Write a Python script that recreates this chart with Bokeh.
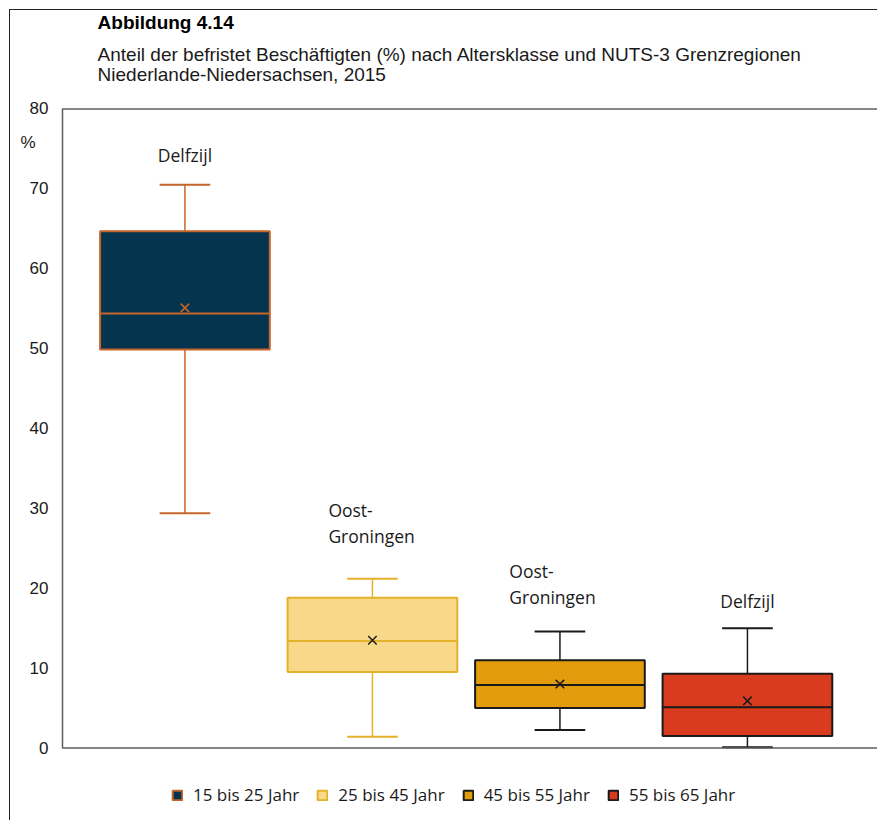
from bokeh.plotting import figure
from bokeh.models import Range1d, Label, Legend, LegendItem, FixedTicker, ColumnDataSource, Span
from bokeh.core.properties import value
from bokeh.embed import file_html
from bokeh.resources import INLINE

# ---- data ----
categories = ["15 bis 25 Jahr", "25 bis 45 Jahr", "45 bis 55 Jahr", "55 bis 65 Jahr"]
regions = ["Delfzijl", "Oost-\nGroningen", "Oost-\nGroningen", "Delfzijl"]
whisker_low = [29.4, 1.4, 2.25, 0.1]
q1 = [49.9, 9.5, 5.0, 1.5]
median = [54.4, 13.4, 7.9, 5.1]
q3 = [64.7, 18.8, 11.0, 9.3]
whisker_high = [70.5, 21.2, 14.6, 15.0]
mean = [55.1, 13.5, 8.0, 5.9]
y_ticks = [0, 10, 20, 30, 40, 50, 60, 70, 80]
y_min, y_max = 0, 80
unit_label = "%"
title_main = "Abbildung 4.14"
title_sub = ["Anteil der befristet Beschäftigten (%) nach Altersklasse und NUTS-3 Grenzregionen",
             "Niederlande-Niedersachsen, 2015"]

# ---- styling / layout ----
fills = ["#05344f", "#f8d98a", "#e39c0c", "#d93b1e"]
lines = ["#c5652b", "#e3b12a", "#1a1a1a", "#1a1a1a"]
mean_colors = ["#c5652b", "#1a1a1a", "#1a1a1a", "#1a1a1a"]
label_align = ["center", "left", "left", "center"]
label_dx = [0.0, -0.235, -0.27, 0.0]
label_y = [74.3, 28.2, 20.5, 18.4]
unit_label_y = 75.8
title_x = 0.534
title_y = [90.89, 86.76, 84.26]

TITLE_FONT = "Liberation Sans"
LABEL_FONT = "Open Sans"
FRAME_COLOR = "#5e5e5e"

# the plotting frame spans the whole canvas height; the value area is 0..80
p = figure(width=868, height=811, output_backend="svg", toolbar_location=None,
           x_range=Range1d(0.347, 4.699), y_range=Range1d(-8.2, 92.33),
           min_border_left=52, min_border_right=0, min_border_top=0, min_border_bottom=8,
           title=None)
p.styles = {"margin-left": "9px", "margin-top": "9px",
            "border-top": "1.5px solid #222", "border-left": "1.5px solid #222"}

p.grid.visible = False
p.xaxis.visible = False
p.outline_line_color = None

ya = p.yaxis[0]
ya.ticker = FixedTicker(ticks=y_ticks + [unit_label_y])
ya.major_label_overrides = {unit_label_y: unit_label + "\u00a0\u00a0\u2009"}
ya.bounds = (y_min, y_max)
ya.axis_line_color = FRAME_COLOR
ya.axis_line_width = 1.5
ya.major_tick_line_color = None
ya.minor_tick_line_color = None
ya.major_label_standoff = 8
ya.major_label_text_font = "Liberation Sans"
ya.major_label_text_font_size = "17px"
ya.major_label_text_color = "#1a1a1a"

# top and bottom frame lines
p.add_layout(Span(location=y_max, dimension="width", line_color=FRAME_COLOR, line_width=1.5))
p.add_layout(Span(location=y_min, dimension="width", line_color=FRAME_COLOR, line_width=1.5))

xs = list(range(1, len(categories) + 1))
box_w = 0.905
cap_w = 0.27

legend_items = []
for i, x in enumerate(xs):
    c_fill, c_line = fills[i], lines[i]
    # whiskers
    p.segment(x0=[x, x], y0=[whisker_low[i], q3[i]], x1=[x, x], y1=[q1[i], whisker_high[i]],
              line_color=c_line, line_width=1.5)
    p.segment(x0=[x - cap_w / 2] * 2, y0=[whisker_low[i], whisker_high[i]],
              x1=[x + cap_w / 2] * 2, y1=[whisker_low[i], whisker_high[i]],
              line_color=c_line, line_width=2)
    # box
    r = p.vbar(x=[x], width=box_w, bottom=[q1[i]], top=[q3[i]],
               fill_color=c_fill, line_color=c_line, line_width=2)
    # median
    p.segment(x0=[x - box_w / 2], y0=[median[i]], x1=[x + box_w / 2], y1=[median[i]],
              line_color=c_line, line_width=2)
    # mean
    p.scatter(x=[x], y=[mean[i]], marker="x", size=12, line_color=mean_colors[i], line_width=1.5)
    legend_items.append(LegendItem(label=categories[i], renderers=[r]))

# region labels
src = ColumnDataSource(dict(x=[xs[i] + label_dx[i] for i in range(4)], y=label_y,
                            text=regions, align=label_align))
p.text(x="x", y="y", text="text", text_align="align", text_baseline="middle",
       source=src, text_font=value(LABEL_FONT), text_font_size="17.5px", text_color="#1a1a1a",
       text_line_height=1.09)

# titles
p.add_layout(Label(x=title_x, y=title_y[0], text=title_main, text_baseline="middle",
                   text_font=TITLE_FONT, text_font_size="19px", text_font_style="bold",
                   text_color="#000000"))
for t, yy in zip(title_sub, title_y[1:]):
    p.add_layout(Label(x=title_x, y=yy, text=t, text_baseline="middle",
                       text_font=TITLE_FONT, text_font_size="19px", text_color="#1a1a1a"))

legend = Legend(items=legend_items, orientation="horizontal", location=(109, 7),
                glyph_width=12, glyph_height=12, label_standoff=10, spacing=17, padding=0,
                margin=0, border_line_color=None, background_fill_alpha=0,
                label_text_font=LABEL_FONT, label_text_font_size="17px",
                label_text_color="#1a1a1a", label_height=20)
p.add_layout(legend, "center")

open("out.html", "w").write(file_html(p, INLINE))
